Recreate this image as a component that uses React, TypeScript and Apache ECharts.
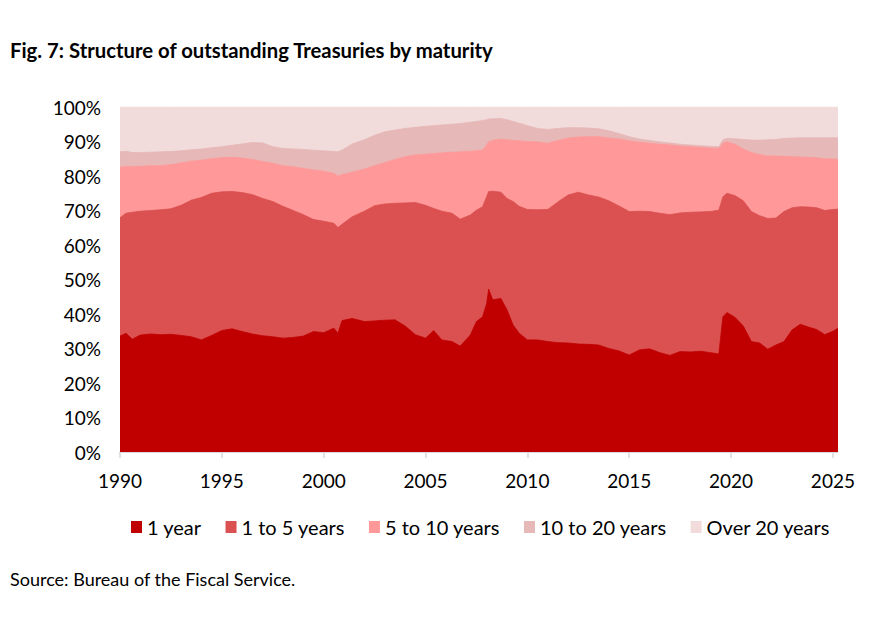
import React, { useEffect, useRef } from "react";
import * as echarts from "echarts";

const years = [
  1990.0, 1990.3, 1990.6, 1991.0, 1991.5, 1992.0, 1992.5, 1993.0, 1993.5, 1994.0,
  1994.5, 1995.0, 1995.5, 1996.0, 1996.5, 1997.0, 1997.5, 1998.0, 1998.5, 1999.0,
  1999.5, 2000.0, 2000.5, 2000.7, 2000.9, 2001.4, 2002.0, 2002.5, 2003.0, 2003.5,
  2004.0, 2004.5, 2005.0, 2005.4, 2005.8, 2006.3, 2006.7, 2007.2, 2007.5, 2007.8,
  2008.0, 2008.1, 2008.3, 2008.7, 2009.0, 2009.3, 2009.6, 2010.0, 2010.5, 2011.0,
  2011.5, 2012.0, 2012.5, 2013.0, 2013.5, 2014.0, 2014.5, 2015.0, 2015.5, 2016.0,
  2016.5, 2017.0, 2017.5, 2018.0, 2018.5, 2019.0, 2019.4, 2019.6, 2019.8, 2020.2,
  2020.6, 2021.0, 2021.4, 2021.8, 2022.2, 2022.6, 2023.0, 2023.4, 2023.8, 2024.2,
  2024.6, 2025.0, 2025.25,
];

const oneYear = [
  33.6, 34.4, 32.7, 33.9, 34.2, 34.0, 34.1, 33.8, 33.4, 32.5,
  33.8, 35.2, 35.7, 34.9, 34.2, 33.7, 33.4, 33.0, 33.2, 33.6,
  34.9, 34.6, 35.9, 34.4, 38.1, 38.7, 37.8, 38.0, 38.2, 38.3,
  36.5, 34.0, 33.0, 35.2, 32.5, 32.0, 30.7, 33.9, 37.8, 39.2,
  43.0, 47.2, 44.1, 44.5, 41.2, 36.8, 34.4, 32.5, 32.5, 32.0,
  31.7, 31.6, 31.3, 31.2, 31.0, 30.0, 29.3, 28.1, 29.6, 29.9,
  28.8, 28.0, 29.1, 29.0, 29.2, 28.8, 28.4, 39.2, 40.4, 39.0,
  36.5, 32.0, 31.6, 29.8, 31.0, 32.0, 35.4, 37.0, 36.2, 35.5,
  34.0, 35.0, 35.9,
];

const oneToFive = [
  34.3, 34.8, 36.8, 35.9, 35.8, 36.2, 36.4, 37.7, 39.6, 41.3,
  41.2, 40.2, 39.8, 40.3, 40.4, 39.8, 39.2, 38.2, 36.8, 35.2,
  32.5, 32.3, 30.4, 30.7, 27.9, 29.5, 32.0, 33.4, 33.7, 33.8,
  35.7, 38.3, 38.5, 35.4, 37.3, 37.2, 36.8, 34.8, 32.3, 31.9,
  31.0, 28.3, 31.5, 30.8, 32.3, 35.8, 36.8, 37.8, 37.7, 38.3,
  40.8, 42.9, 44.0, 43.3, 42.9, 42.8, 42.0, 41.6, 40.2, 39.8,
  40.4, 40.8, 40.2, 40.5, 40.4, 40.9, 41.7, 34.8, 34.6, 35.3,
  36.3, 37.7, 36.9, 37.9, 36.8, 37.7, 35.4, 34.1, 34.8, 35.3,
  36.0, 35.3, 34.5,
];

const fiveToTen = [
  14.6, 13.6, 13.2, 13.0, 13.0, 12.8, 12.8, 12.3, 11.3, 10.8,
  10.0, 9.9, 9.9, 10.0, 10.2, 10.7, 11.1, 11.8, 12.7, 13.4,
  14.4, 14.5, 14.5, 14.9, 14.4, 12.9, 12.2, 11.6, 12.0, 12.7,
  13.4, 13.8, 14.8, 15.9, 16.9, 17.7, 19.5, 18.5, 17.2, 16.4,
  15.0, 14.4, 14.7, 15.4, 17.0, 17.7, 19.0, 19.7, 19.7, 19.2,
  17.8, 16.5, 16.0, 16.9, 17.5, 18.2, 19.4, 20.5, 20.0, 19.8,
  20.0, 20.2, 19.4, 19.0, 18.7, 18.4, 17.9, 15.5, 14.9, 14.9,
  15.0, 17.1, 17.7, 18.1, 18.0, 16.0, 14.8, 14.4, 14.4, 14.5,
  15.0, 14.6, 14.4,
];

const tenToTwenty = [
  4.5, 4.4, 4.1, 4.0, 3.9, 4.0, 3.8, 3.5, 3.3, 3.2,
  3.2, 3.2, 3.5, 4.1, 4.9, 5.4, 4.8, 5.0, 5.1, 5.5,
  5.7, 5.9, 6.3, 7.0, 7.1, 8.2, 8.5, 8.8, 8.9, 8.5,
  8.2, 8.0, 8.1, 8.1, 8.1, 8.1, 8.2, 8.4, 8.5, 8.6,
  7.3, 6.6, 6.3, 6.0, 5.8, 5.5, 5.1, 4.6, 3.9, 4.0,
  3.5, 3.0, 2.7, 2.5, 2.3, 2.1, 1.6, 1.2, 0.9, 0.8,
  0.7, 0.6, 0.5, 0.5, 0.5, 0.5, 0.5, 1.0, 1.0, 1.6,
  2.8, 3.6, 4.2, 4.7, 4.8, 5.2, 5.4, 5.6, 5.7, 5.8,
  6.1, 6.2, 6.3,
];

const overTwenty = [
  13.0, 12.8, 13.2, 13.2, 13.1, 13.0, 12.9, 12.7, 12.4, 12.2,
  11.8, 11.5, 11.1, 10.7, 10.3, 10.4, 11.5, 12.0, 12.2, 12.3,
  12.5, 12.7, 12.9, 13.0, 12.5, 10.7, 9.5, 8.2, 7.2, 6.7,
  6.2, 5.9, 5.6, 5.4, 5.2, 5.0, 4.8, 4.4, 4.2, 3.9,
  3.7, 3.5, 3.4, 3.3, 3.7, 4.2, 4.7, 5.4, 6.2, 6.5,
  6.2, 6.0, 6.0, 6.1, 6.3, 6.9, 7.7, 8.6, 9.3, 9.7,
  10.1, 10.4, 10.8, 11.0, 11.2, 11.4, 11.5, 9.5, 9.1, 9.2,
  9.4, 9.6, 9.6, 9.5, 9.4, 9.1, 9.0, 8.9, 8.9, 8.9,
  8.9, 8.9, 8.9,
];

const seriesNames = ["1 year", "1 to 5 years", "5 to 10 years", "10 to 20 years", "Over 20 years"];
const seriesColors = ["#C00000", "#DB5050", "#FF9999", "#E6B8B7", "#F2DCDB"];
const seriesValues = [oneYear, oneToFive, fiveToTen, tenToTwenty, overTwenty];
const xTicks = [1990, 1995, 2000, 2005, 2010, 2015, 2020, 2025];

const FONT = "Lato, 'Noto Sans', sans-serif";

export default function App() {
  const ref = useRef<HTMLDivElement>(null);

  useEffect(() => {
    if (!ref.current) return;
    const chart = echarts.init(ref.current, null, { renderer: "svg" });

    // 100% stacked areas: each layer's top edge is the running total of shares.
    // (ECharts would stack the x dimension on a value x-axis, so totals are built here.)
    const totals = seriesValues.map((_, k) =>
      years.map((_, i) => {
        let s = 0;
        for (let j = 0; j <= k; j++) s += seriesValues[j][i];
        return s;
      })
    );

    const series = seriesNames
      .map((name, k) => ({
        name,
        type: "line",
        symbol: "none",
        showSymbol: false,
        z: 2 + (seriesNames.length - k),
        itemStyle: { color: seriesColors[k] },
        lineStyle: { width: 0.8, color: seriesColors[k] },
        areaStyle: { color: seriesColors[k], opacity: 1, origin: "start" },
        data: years.map((x, i) => [x, totals[k][i]]),
      }))
      .reverse();

    chart.setOption({
      animation: false,
      backgroundColor: "#ffffff",
      title: [
        {
          text: "Fig. 7: Structure of outstanding Treasuries by maturity",
          left: 10,
          top: 40,
          padding: 0,
          textStyle: { fontFamily: FONT, fontSize: 20.3, fontWeight: "bold", color: "#000000" },
        },
        {
          text: "Source: Bureau of the Fiscal Service.",
          left: 10,
          top: 570,
          padding: 0,
          textStyle: { fontFamily: FONT, fontSize: 18, fontWeight: "normal", color: "#000000" },
        },
      ],
      legend: {
        left: 126,
        top: 512,
        itemWidth: 11,
        itemHeight: 12,
        itemGap: 24,
        icon: "rect",
        data: seriesNames,
        textStyle: { fontFamily: FONT, fontSize: 20, color: "#000000" },
      },
      grid: { left: 120, right: 36, top: 107, bottom: 179 },
      xAxis: {
        type: "value",
        min: 1990,
        max: 2025.25,
        axisLine: { show: true, lineStyle: { color: "#d9d9d9", width: 1.5 } },
        axisTick: { show: true, length: 6, customValues: xTicks, lineStyle: { color: "#d9d9d9", width: 1.5 } },
        axisLabel: {
          customValues: xTicks,
          margin: 19,
          fontFamily: FONT,
          fontSize: 19,
          color: "#000000",
          formatter: (v: number) => String(Math.round(v)),
        },
        splitLine: { show: false },
      },
      yAxis: {
        type: "value",
        min: 0,
        max: 100,
        interval: 10,
        axisLine: { show: false },
        axisTick: { show: false },
        axisLabel: {
          margin: 19,
          fontFamily: FONT,
          fontSize: 19,
          color: "#000000",
          formatter: "{value}%",
        },
        splitLine: { show: true, lineStyle: { color: "#d9d9d9", width: 1 } },
      },
      series,
    });
    return () => chart.dispose();
  }, []);

  return (
    <div
      ref={ref}
      style={{ position: "fixed", left: 0, top: 0, width: 874, height: 631, background: "#fff" }}
    />
  );
}
